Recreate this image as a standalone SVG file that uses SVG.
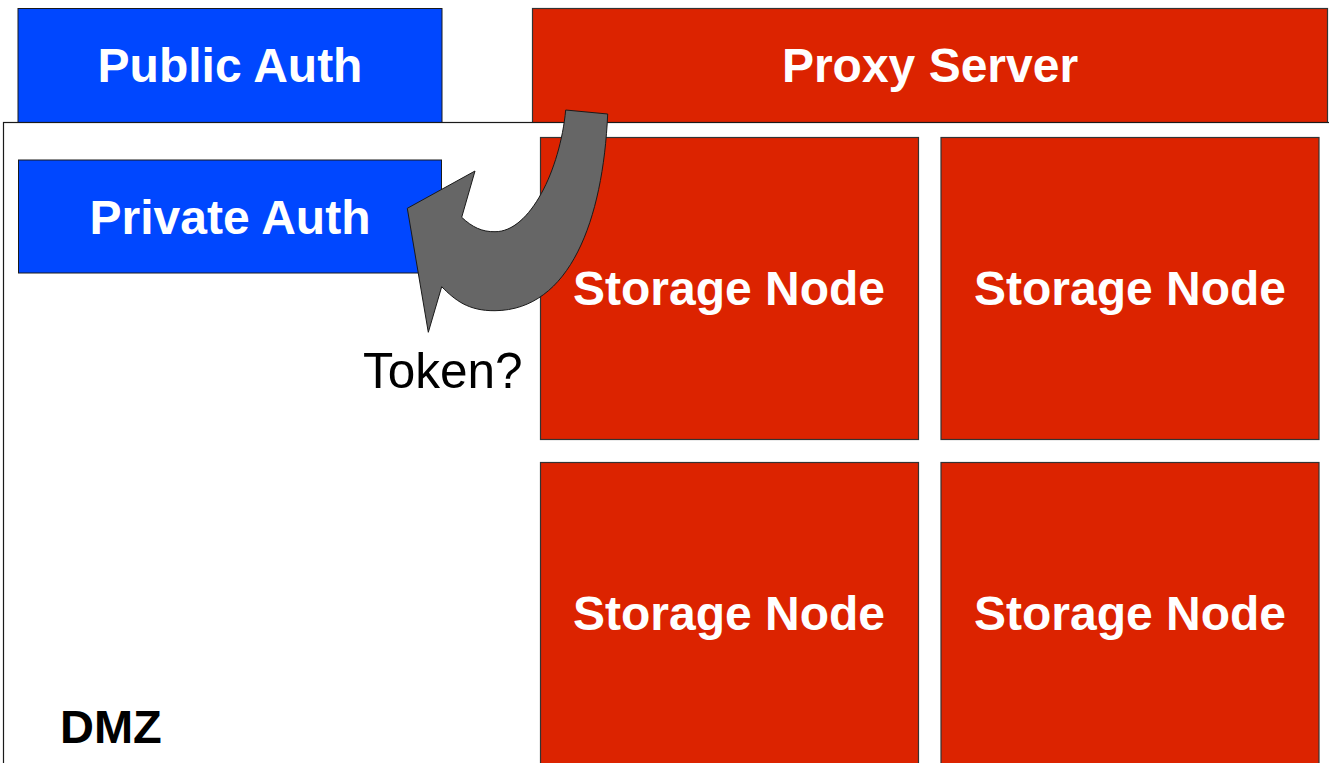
<svg xmlns="http://www.w3.org/2000/svg" width="1329" height="763" viewBox="0 0 1329 763">
<style>
.blue{fill:#0047ff;stroke:#1a1a1a;stroke-width:1}
.red{fill:#dc2300;stroke:#333;stroke-width:1.2}
.lbl{font-family:"Liberation Sans",Arial,sans-serif;font-weight:bold;font-size:48px;fill:#fff;text-anchor:middle}
.blk{font-family:"Liberation Sans",Arial,sans-serif;fill:#000}
</style>
<rect width="1329" height="763" fill="#fff"/>
<g id="public-auth">
<rect class="blue" x="18" y="8.5" width="424" height="130"/>
<text class="lbl" x="230" y="82">Public Auth</text>
</g>
<g id="proxy-server">
<rect class="red" x="532.5" y="8.5" width="795" height="130"/>
<text class="lbl" x="930" y="82">Proxy Server</text>
</g>
<g id="dmz">
<rect x="3.5" y="122.5" width="1340" height="660" fill="#fff" stroke="#1a1a1a" stroke-width="1.2"/>
<text class="blk" x="60" y="743" font-size="47" font-weight="bold">DMZ</text>
</g>
<g id="private-auth">
<rect class="blue" x="18.5" y="160" width="423" height="113"/>
<text class="lbl" x="230" y="234">Private Auth</text>
</g>
<g id="storage-1">
<rect class="red" x="540.5" y="137.5" width="378" height="302"/>
<text class="lbl" x="729" y="305">Storage Node</text>
</g>
<g id="storage-2">
<rect class="red" x="941" y="137.5" width="378" height="302"/>
<text class="lbl" x="1130" y="305">Storage Node</text>
</g>
<g id="storage-3">
<rect class="red" x="540.5" y="462.5" width="378" height="320"/>
<text class="lbl" x="729" y="630">Storage Node</text>
</g>
<g id="storage-4">
<rect class="red" x="941" y="462.5" width="378" height="320"/>
<text class="lbl" x="1130" y="630">Storage Node</text>
</g>
<g id="connectors">
<path d="M565.7,110 L607.7,114 C603,220 570,310 495,310.7 C468,311 455,300 441.7,286.7 L428.3,332.3 L407.3,208.3 L475,171 L461.7,217.3 C472,227 482,232 495,231.7 C530,232 560,170 565.7,110 Z" fill="#666" stroke="#1a1a1a" stroke-width="1"/>
<text class="blk" x="363" y="388" font-size="49.5">Token?</text>
</g>
</svg>
